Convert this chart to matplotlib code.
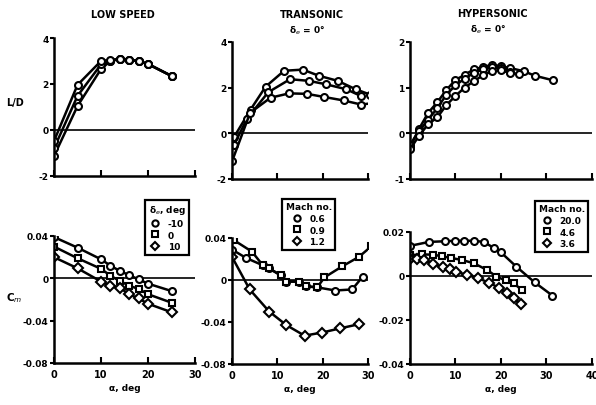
import matplotlib.pyplot as plt
import numpy as np

# ---- LOW SPEED, L/D (delta_e = -10, 0, 10)
ls_a1 = [0, 5, 10, 12, 14, 16, 18, 20, 25]
ls_ld_m10 = [-1.13, 1.04, 2.65, 3.0, 3.09, 3.05, 3.0, 2.87, 2.35]
ls_ld_0 = [-0.8, 1.48, 2.85, 3.0, 3.09, 3.05, 3.0, 2.87, 2.35]
ls_ld_p10 = [-0.48, 1.96, 3.0, 3.05, 3.09, 3.05, 3.0, 2.87, 2.35]

# ---- LOW SPEED, Cm
ls_a2 = [0, 5, 10, 12, 14, 16, 18, 20, 25]
ls_cm_m10 = [0.039, 0.029, 0.018, 0.012, 0.007, 0.003, -0.001, -0.005, -0.012]
ls_cm_0 = [0.030, 0.019, 0.009, 0.0025, -0.0025, -0.007, -0.010, -0.015, -0.023]
ls_cm_p10 = [0.020, 0.0095, -0.003, -0.007, -0.009, -0.015, -0.019, -0.024, -0.032]

# ---- TRANSONIC, L/D (Mach 0.6, 0.9, 1.2)
tr_a_06 = [0.4, 4.1, 7.4, 11.5, 15.6, 19.2, 23.3, 27.3, 30.4]
tr_ld_06 = [-0.18, 1.04, 2.04, 2.74, 2.79, 2.52, 2.3, 1.93, 1.7]
tr_a_09 = [0.4, 3.3, 8.0, 12.8, 16.9, 20.7, 25.2, 28.5]
tr_ld_09 = [-0.52, 0.64, 1.8, 2.37, 2.3, 2.15, 1.93, 1.63]
tr_a_12 = [0, 4.0, 8.5, 12.6, 16.5, 20.4, 24.6, 28.5, 31.3]
tr_ld_12 = [-1.23, 0.9, 1.56, 1.75, 1.73, 1.59, 1.44, 1.26, 1.33]

# ---- TRANSONIC, Cm
tr_ca_06 = [0, 3.1, 6.8, 8.2, 10.7, 12, 14.8, 16.3, 18.8, 22.8, 26.5, 28.8]
tr_cm_06 = [0.029, 0.021, 0.014, 0.011, 0.0046, -0.0015, -0.0015, -0.006, -0.007, -0.010, -0.009, 0.003]
tr_ca_09 = [0.4, 4.4, 6.8, 8.2, 10.7, 12, 14.8, 16.3, 18.8, 20.4, 24.3, 28.0, 30.7]
tr_cm_09 = [0.038, 0.027, 0.014, 0.011, 0.0046, -0.0015, -0.0015, -0.006, -0.007, 0.0025, 0.013, 0.022, 0.032]
tr_ca_12 = [0, 3.9, 8.2, 12, 16, 19.9, 23.9, 28.1]
tr_cm_12 = [0.022, -0.009, -0.030, -0.043, -0.053, -0.050, -0.046, -0.042]

# ---- HYPERSONIC, L/D (Mach 20.0, 4.6, 3.6)
hy_a_20 = [0, 2, 4, 6, 8, 10, 12, 14, 16, 18, 20, 22, 25, 27.5, 31.5]
hy_ld_20 = [-0.3, 0.1, 0.45, 0.68, 0.95, 1.17, 1.28, 1.4, 1.45, 1.5, 1.47, 1.43, 1.36, 1.26, 1.16]
hy_a_46 = [0, 2, 4, 6, 8, 10, 12, 14, 16, 18, 20, 22]
hy_ld_46 = [-0.25, 0.05, 0.3, 0.55, 0.85, 1.05, 1.2, 1.32, 1.4, 1.45, 1.42, 1.35]
hy_a_36 = [0, 2, 4, 6, 8, 10, 12, 14, 16, 18, 20, 22, 24]
hy_ld_36 = [-0.35, -0.05, 0.2, 0.35, 0.62, 0.82, 1.0, 1.14, 1.27, 1.36, 1.38, 1.32, 1.3]

# ---- HYPERSONIC, Cm
hy_ca_20 = [0, 4.2, 7.8, 9.8, 11.8, 14, 16.2, 18.4, 20, 23.4, 27.4, 31.3]
hy_cm_20 = [0.0137, 0.0155, 0.0158, 0.016, 0.016, 0.016, 0.0155, 0.0128, 0.0107, 0.0042, -0.0029, -0.0089]
hy_ca_46 = [0, 2.6, 5, 7, 9, 11.4, 14, 17, 19, 21, 22.8, 24.6]
hy_cm_46 = [0.0095, 0.0098, 0.0097, 0.009, 0.0082, 0.0073, 0.0058, 0.0027, -0.0003, -0.002, -0.0033, -0.0064]
hy_ca_36 = [0, 1.6, 3, 5.1, 7.2, 8.8, 10.1, 12.5, 15, 17.3, 19.5, 21.3, 22.8, 24.3]
hy_cm_36 = [0.0076, 0.0076, 0.0073, 0.0055, 0.004, 0.0032, 0.002, 0.0005, -0.001, -0.003, -0.0053, -0.0079, -0.010, -0.0129]

W, H = 596, 406
fig = plt.figure(figsize=(W / 100, H / 100), dpi=100)


def box(x0, x1, ytop, ybot):
    return [x0 / W, 1 - ybot / H, (x1 - x0) / W, (ybot - ytop) / H]


def style(ax, xlim, ylim, yticks, yticklabels, xlabels):
    ax.set_xlim(*xlim)
    ax.set_ylim(*ylim)
    for s in ['top', 'right']:
        ax.spines[s].set_visible(False)
    for s in ['left', 'bottom']:
        ax.spines[s].set_linewidth(1.8)
    ax.axhline(0, color='black', lw=1.2, zorder=1)
    ax.set_yticks(yticks)
    ax.set_yticklabels(yticklabels, fontsize=6.5, fontweight='bold')
    ax.set_xticks(np.arange(xlim[0], xlim[1] + 1, 10))
    if xlabels:
        ax.set_xticklabels([str(int(v)) for v in np.arange(xlim[0], xlim[1] + 1, 10)],
                           fontsize=7, fontweight='bold')
        ax.set_xlabel('α, deg', fontsize=6.5, fontweight='bold', labelpad=3)
    else:
        ax.set_xticklabels([])
    ax.tick_params(axis='x', direction='in', length=4, width=1.5, pad=4)
    ax.tick_params(axis='y', direction='out', length=3, width=1.5, pad=1)


mk = dict(color='black', lw=1.8, ms=5, mfc='white', mew=1.5)

# top-left
ax = fig.add_axes(box(54, 195, 39, 177))
style(ax, (0, 30), (-2, 4), [-2, 0, 2, 4], ['-2', '0', '2', '4'], False)
ax.plot(ls_a1, ls_ld_m10, marker='o', **mk)
ax.plot(ls_a1, ls_ld_0, marker='o', **mk)
ax.plot(ls_a1, ls_ld_p10, marker='o', **mk)

# top-middle
ax = fig.add_axes(box(232, 368, 43, 180))
style(ax, (0, 30), (-2, 4), [-2, 0, 2, 4], ['-2', '0', '2', '4'], False)
ax.plot(tr_a_06, tr_ld_06, marker='o', **mk)
ax.plot(tr_a_09, tr_ld_09, marker='o', **mk)
ax.plot(tr_a_12, tr_ld_12, marker='o', **mk)

# top-right
ax = fig.add_axes(box(410, 592, 43, 180))
style(ax, (0, 40), (-1, 2), [-1, 0, 1, 2], ['-1', '0', '1', '2'], False)
ax.plot(hy_a_20, hy_ld_20, marker='o', **mk)
ax.plot(hy_a_46, hy_ld_46, marker='o', **mk)
ax.plot(hy_a_36, hy_ld_36, marker='o', **mk)


def legend(ax, title, xr, yt):
    leg = ax.legend(title=title, loc='upper right', bbox_to_anchor=(xr / W, 1 - yt / H),
                    bbox_transform=fig.transFigure, fancybox=False, framealpha=1,
                    edgecolor='black', handlelength=1.0, handletextpad=0.9,
                    borderpad=0.4, labelspacing=0.3, markerscale=0.9,
                    prop={'size': 6.5, 'weight': 'bold'},
                    title_fontproperties={'size': 6.5, 'weight': 'bold'})
    leg.get_frame().set_linewidth(1.6)
    for h in leg.get_lines():
        h.set_linestyle('none')


# bottom-left
ax = fig.add_axes(box(54, 195, 237, 364))
style(ax, (0, 30), (-0.08, 0.04), [-0.08, -0.04, 0, 0.04],
      ['-0.08', '-0.04', '0', '0.04'], True)
ax.plot(ls_a2, ls_cm_m10, marker='o', label='-10', **mk)
ax.plot(ls_a2, ls_cm_0, marker='s', label='0', **mk)
ax.plot(ls_a2, ls_cm_p10, marker='D', label='10', **mk)
legend(ax, 'δ$_e$, deg', 194, 196)

# bottom-middle
ax = fig.add_axes(box(232, 368, 239, 365))
style(ax, (0, 30), (-0.08, 0.04), [-0.08, -0.04, 0, 0.04],
      ['-0.08', '-0.04', '0', '0.04'], True)
ax.plot(tr_ca_06, tr_cm_06, marker='o', label='0.6', **mk)
ax.plot(tr_ca_09, tr_cm_09, marker='s', label='0.9', **mk)
ax.plot(tr_ca_12, tr_cm_12, marker='D', label='1.2', **mk)
legend(ax, 'Mach no.', 340, 195)

# bottom-right
ax = fig.add_axes(box(410, 592, 233, 365))
style(ax, (0, 40), (-0.04, 0.02), [-0.04, -0.02, 0, 0.02],
      ['-0.04', '-0.02', '0', '0.02'], True)
ax.plot(hy_ca_20, hy_cm_20, marker='o', label='20.0', **mk)
ax.plot(hy_ca_46, hy_cm_46, marker='s', label='4.6', **mk)
ax.plot(hy_ca_36, hy_cm_36, marker='D', label='3.6', **mk)
legend(ax, 'Mach no.', 593, 197)

# labels and titles placed as in the original figure
fig.text(15 / W, 1 - 103 / H, 'L/D', fontsize=7, fontweight='bold', ha='center', va='center')
fig.text(14 / W, 1 - 298 / H, 'C$_m$', fontsize=7.5, fontweight='bold', ha='center', va='center')
fig.text(123 / W, 1 - 15 / H, 'LOW SPEED', fontsize=7, fontweight='bold', ha='center', va='center')
fig.text(312 / W, 1 - 15 / H, 'TRANSONIC', fontsize=7, fontweight='bold', ha='center', va='center')
fig.text(307 / W, 1 - 31 / H, 'δ$_e$ = 0°', fontsize=6.5, fontweight='bold', ha='center', va='center')
fig.text(492 / W, 1 - 14 / H, 'HYPERSONIC', fontsize=7, fontweight='bold', ha='center', va='center')
fig.text(488 / W, 1 - 30 / H, 'δ$_e$ = 0°', fontsize=6.5, fontweight='bold', ha='center', va='center')

fig.savefig('out.png', dpi=100)
